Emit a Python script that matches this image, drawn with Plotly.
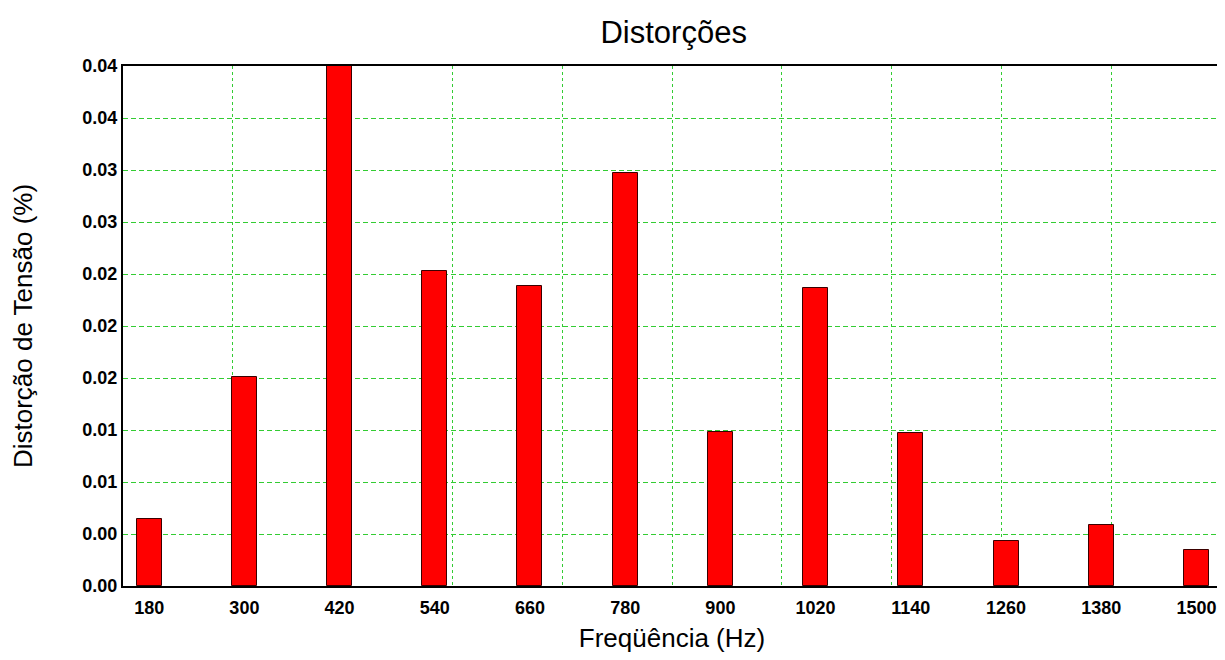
import plotly.graph_objects as go

freqs = [180, 300, 420, 540, 660, 780, 900, 1020, 1140, 1260, 1380, 1500]
dist = [0.00512, 0.01605, 0.0400, 0.02426, 0.0231, 0.03178, 0.01186, 0.02295, 0.01178, 0.00349, 0.00467, 0.00277]
y_ticks = [0.0, 0.004, 0.008, 0.012, 0.016, 0.020, 0.024, 0.028, 0.032, 0.036, 0.040]

FONT = "Liberation Sans, Arial, sans-serif"
GRID = "#33cc33"

fig = go.Figure()
fig.add_trace(go.Bar(
    x=freqs, y=dist, width=31.5,
    marker=dict(color="#ff0000", line=dict(color="#3a0000", width=1)),
    showlegend=False,
))
# invisible trace on secondary x-axis for the 10 equal vertical grid divisions
fig.add_trace(go.Scatter(x=[0, 10], y=[0, 0], xaxis="x2", mode="markers",
                         marker=dict(opacity=0), showlegend=False, hoverinfo="skip"))

fig.update_layout(
    width=1217, height=652,
    margin=dict(l=115, r=2, t=58, b=74),
    paper_bgcolor="white", plot_bgcolor="white",
    title=dict(text="Distorções", x=0.547, xanchor="center", y=0.963, yanchor="middle",
               font=dict(family=FONT, size=31, color="black")),
    xaxis=dict(
        range=[147, 1531], tickvals=freqs, ticktext=[str(f) for f in freqs],
        showgrid=False, zeroline=False, ticks="", ticklabelstandoff=4,
        tickfont=dict(family=FONT, size=18, color="black", weight="bold"),
        showline=True, linecolor="black", linewidth=2, mirror=True,
        title=dict(text="Freqüência (Hz)", font=dict(family=FONT, size=26, color="black"), standoff=12),
    ),
    xaxis2=dict(
        range=[0, 10], dtick=1, overlaying="x", side="top",
        showticklabels=False, ticks="", zeroline=False,
        showgrid=True, gridcolor=GRID, griddash="3px,3px", gridwidth=1.4,
    ),
    yaxis=dict(
        range=[0, 0.04], tickvals=y_ticks, tickformat=".2f",
        showgrid=True, gridcolor=GRID, griddash="5px,3px", gridwidth=1,
        zeroline=False, ticks="",
        tickfont=dict(family=FONT, size=18, color="black", weight="bold"),
        showline=True, linecolor="black", linewidth=2, mirror=True,
        title=dict(text="Distorção de Tensão (%)", font=dict(family=FONT, size=26, color="black"), standoff=50),
    ),
    bargap=0,
)

fig.write_html("out.html")
